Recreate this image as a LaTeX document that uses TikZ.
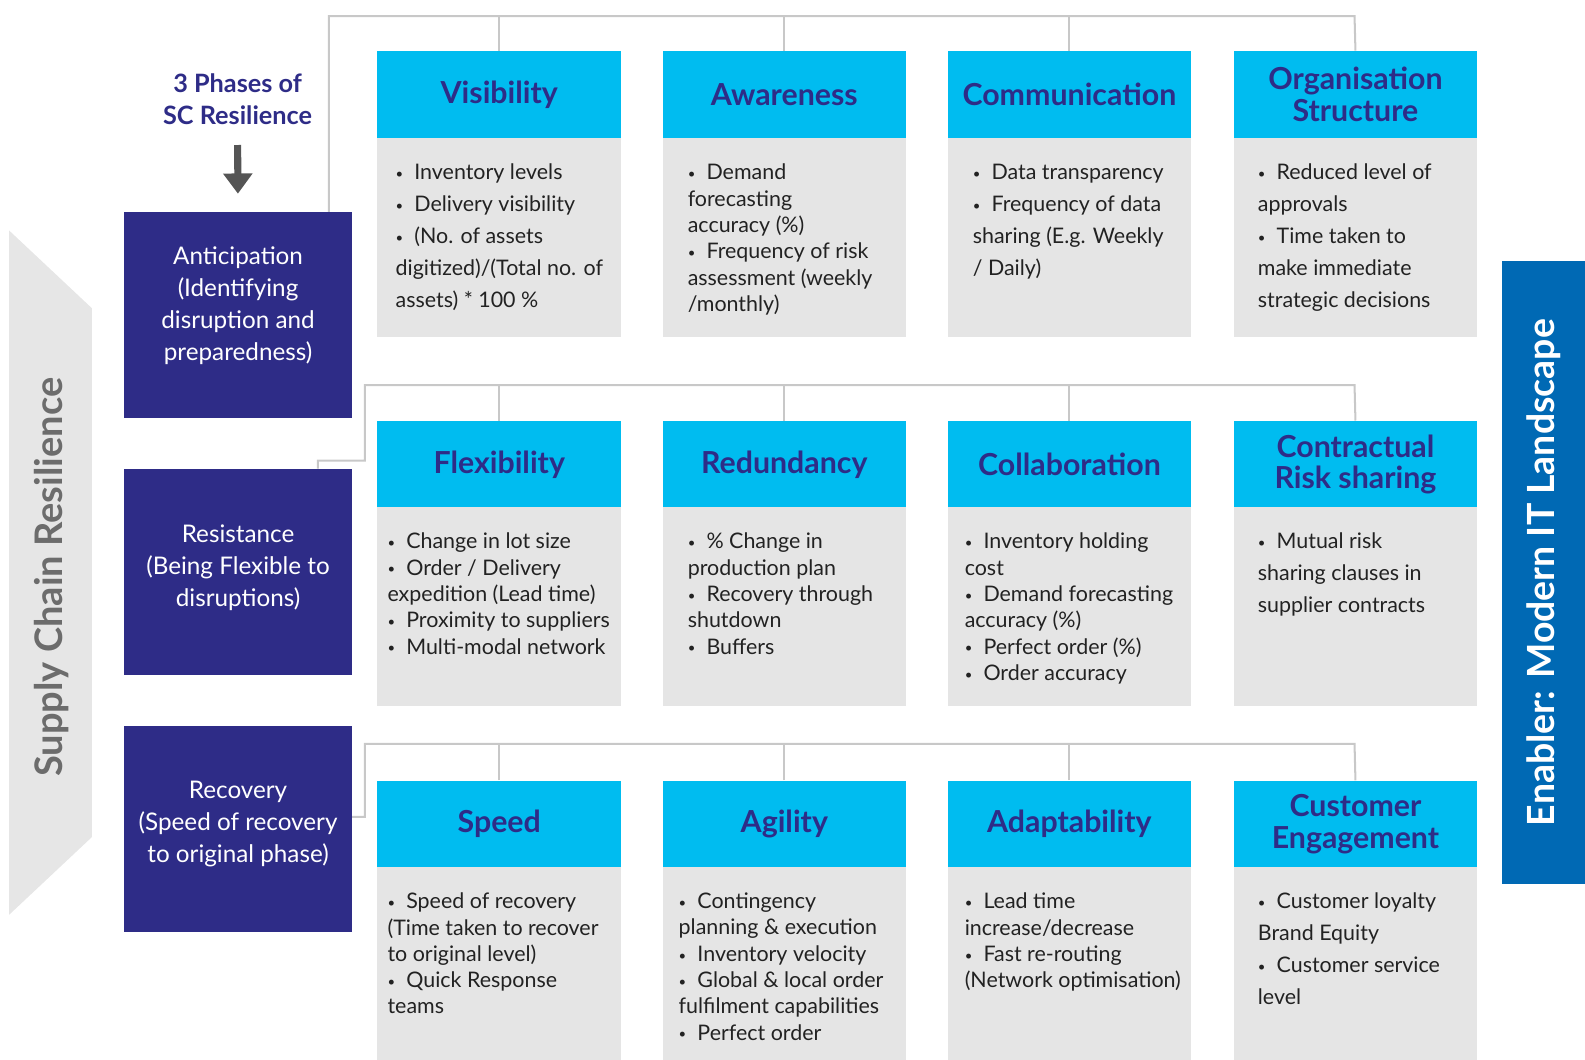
\documentclass[tikz,border=0pt]{standalone}
\usepackage{fontspec}
\setmainfont{Lato}
\usetikzlibrary{arrows.meta}

\definecolor{navy}{RGB}{46,44,135}
\definecolor{sky}{RGB}{0,188,240}
\definecolor{paleg}{RGB}{229,229,229}
\definecolor{lineg}{RGB}{200,200,200}
\definecolor{sideg}{RGB}{230,230,230}
\definecolor{sidetxt}{RGB}{108,108,108}
\definecolor{itblue}{RGB}{0,105,180}
\definecolor{arrowg}{RGB}{85,85,85}
\definecolor{ink}{RGB}{34,34,34}

\newcommand{\bul}{\raisebox{0.6pt}{\fontsize{6.5}{6.5}\selectfont\textbullet}\hspace{5.5pt}}

\begin{document}
\begin{tikzpicture}[x=0.5pt, y=-0.5pt,
    hdr/.style={fill=sky, text=navy, font=\fontsize{15}{15.5}\selectfont\bfseries, align=center,
      minimum width=120.5pt, minimum height=43pt, inner sep=0pt, anchor=north west},
    card/.style={fill=paleg, minimum width=120.5pt, minimum height=98.5pt, inner sep=0pt, anchor=north west},
    loose/.style={text=ink, font=\fontsize{10.6}{15.8}\selectfont, align=left, inner sep=0pt, anchor=north west},
    tight/.style={loose, font=\fontsize{10.6}{13}\selectfont},
    phase/.style={fill=navy, minimum width=112.5pt, minimum height=102pt, inner sep=0pt},
    phasetxt/.style={text=white, font=\fontsize{12}{15.8}\selectfont, align=center},
    link/.style={draw=lineg, line width=1pt},
    pointer/.style={draw=arrowg, line width=3.5pt, -{Triangle[width=14pt,length=10pt]}}]
  \useasboundingbox (0,0) rectangle (1568,1048);

  % side bars
  \fill[sideg] (9,228) -- (91,305) -- (91,828) -- (9,905) -- cycle;
  \node[rotate=90, text=sidetxt, font=\fontsize{18.8}{18.8}\selectfont\bfseries] (scr) at (51,571) {Supply Chain Resilience};
  \node[rotate=90, fill=itblue, text=white, font=\fontsize{18.5}{18.5}\selectfont\bfseries,
    minimum width=308.5pt, minimum height=41pt, inner sep=0pt] (enab) at (1527,566.5) {Enabler: Modern IT Landscape};

  % phases
  \node[text=navy, font=\fontsize{12.5}{16}\selectfont\bfseries, align=center] (ttl) at (235,98) {3 Phases of\\SC Resilience};
  \node[phase] (antic) at (235.5,312) {};
  \node[phasetxt] (anticT) at ([yshift=5pt]antic.center) {Anticipation\\(Identifying\\disruption and\\preparedness)};
  \node[phase] (resist) at (235.5,566) {};
  \node[phasetxt] (resistT) at ([yshift=2pt]resist.center) {Resistance\\(Being Flexible to\\disruptions)};
  \node[phase] (recov) at (235.5,820) {};
  \node[phasetxt] (recovT) at ([yshift=2.5pt]recov.center) {Recovery\\(Speed of recovery\\to original phase)};
  \draw[pointer, shorten <=6.5pt, shorten >=9pt] (ttl.south) -- (antic.north);

  % row 1
  \node[hdr] (visH) at (373,50) {Visibility};
  \node[card] (visC) at (373,136) {};
  \node[loose] (visT) at (391,162) {\bul Inventory levels\\\bul Delivery visibility\\\bul (No. of assets\\digitized)/(Total no. of\\assets) * 100 \%};
  \node[hdr] (awaH) at (655,50) {Awareness};
  \node[card] (awaC) at (655,136) {};
  \node[tight] (awaT) at (680,162) {\bul Demand\\forecasting\\accuracy (\%)\\\bul Frequency of risk\\assessment (weekly\\/monthly)};
  \node[hdr] (comH) at (937,50) {Communication};
  \node[card] (comC) at (937,136) {};
  \node[loose] (comT) at (962,162) {\bul Data transparency\\\bul Frequency of data\\sharing (E.g. Weekly\\/ Daily)};
  \node[hdr] (orgH) at (1220,50) {Organisation\\Structure};
  \node[card] (orgC) at (1220,136) {};
  \node[loose] (orgT) at (1244,162) {\bul Reduced level of\\approvals\\\bul Time taken to\\make immediate\\strategic decisions};

  % row 2
  \node[hdr] (flxH) at (373,416) {Flexibility};
  \node[card] (flxC) at (373,501) {};
  \node[tight] (flxT) at (383,527) {\bul Change in lot size\\\bul Order / Delivery\\expedition (Lead time)\\\bul Proximity to suppliers\\\bul Multi-modal network};
  \node[hdr] (redH) at (655,416) {Redundancy};
  \node[card] (redC) at (655,501) {};
  \node[tight] (redT) at (680,527) {\bul \% Change in\\production plan\\\bul Recovery through\\shutdown\\\bul Buffers};
  \node[hdr] (colH) at (937,416) {Collaboration};
  \node[card] (colC) at (937,501) {};
  \node[tight] (colT) at (954,527) {\bul Inventory holding\\cost\\\bul Demand forecasting\\accuracy (\%)\\\bul Perfect order (\%)\\\bul Order accuracy};
  \node[hdr] (crH) at (1220,416) {Contractual\\Risk sharing};
  \node[card] (crC) at (1220,501) {};
  \node[loose] (crT) at (1244,527) {\bul Mutual risk\\sharing clauses in\\supplier contracts};

  % row 3
  \node[hdr] (spdH) at (373,772) {Speed};
  \node[card, minimum height=95.5pt] (spdC) at (373,857) {};
  \node[tight] (spdT) at (383,883) {\bul Speed of recovery\\(Time taken to recover\\to original level)\\\bul Quick Response\\teams};
  \node[hdr] (agiH) at (655,772) {Agility};
  \node[card, minimum height=95.5pt] (agiC) at (655,857) {};
  \node[tight] (agiT) at (671,883) {\bul Contingency\\planning \& execution\\\bul Inventory velocity\\\bul Global \& local order\\fulfilment capabilities\\\bul Perfect order};
  \node[hdr] (adaH) at (937,772) {Adaptability};
  \node[card, minimum height=95.5pt] (adaC) at (937,857) {};
  \node[tight] (adaT) at (954,883) {\bul Lead time\\increase/decrease\\\bul Fast re-routing\\(Network optimisation)};
  \node[hdr] (cusH) at (1220,772) {Customer\\Engagement};
  \node[card, minimum height=95.5pt] (cusC) at (1220,857) {};
  \node[loose] (cusT) at (1244,883) {\bul Customer loyalty\\Brand Equity\\\bul Customer service\\level};

  % connectors
  \coordinate (busA) at (1340,16);
  \draw[link] ([xshift=-11.5pt]antic.north east) |- (busA) -- (orgH.north);
  \draw[link] (visH.north) -- (visH.north |- busA);
  \draw[link] (awaH.north) -- (awaH.north |- busA);
  \draw[link] (comH.north) -- (comH.north |- busA);
  \coordinate (kneeB) at (361,381);
  \coordinate (busB) at (1340,381);
  \draw[link] ([xshift=-17pt]resist.north east) -- ++(0,-8) -| (kneeB) -- (busB) -- (crH.north);
  \draw[link] (flxH.north) -- (flxH.north |- busB);
  \draw[link] (redH.north) -- (redH.north |- busB);
  \draw[link] (colH.north) -- (colH.north |- busB);
  \coordinate (kneeC) at (361,736);
  \coordinate (busC) at (1340,736);
  \draw[link] ([yshift=6pt]recov.east) -| (kneeC) -- (busC) -- (cusH.north);
  \draw[link] (spdH.north) -- (spdH.north |- busC);
  \draw[link] (agiH.north) -- (agiH.north |- busC);
  \draw[link] (adaH.north) -- (adaH.north |- busC);
\end{tikzpicture}
\end{document}
